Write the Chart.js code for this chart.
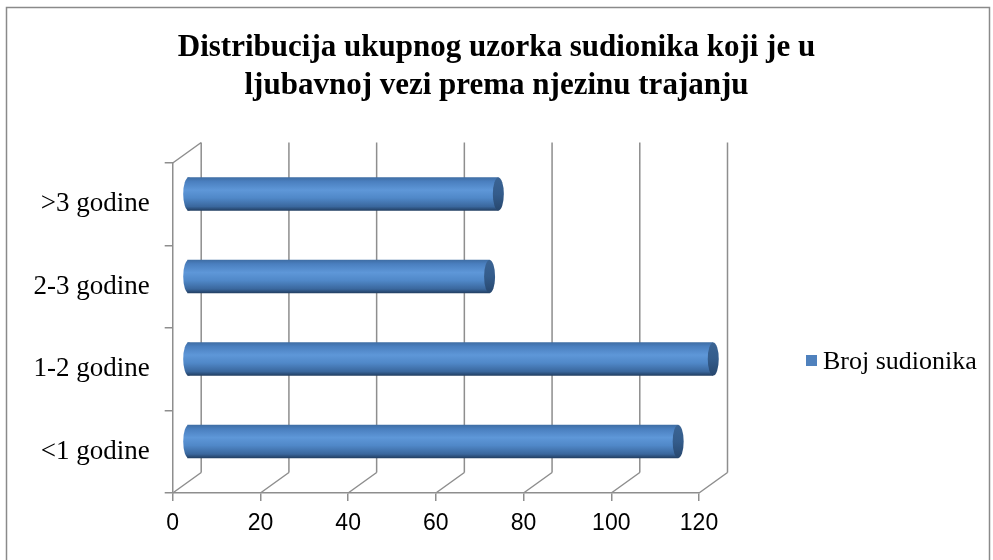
<!DOCTYPE html>
<html>
<head>
<meta charset="utf-8">
<script src="https://cdn.jsdelivr.net/npm/chart.js@4.4.1/dist/chart.umd.min.js"></script>
<style>
  html, body { margin: 0; padding: 0; background: #fff; }
  #wrap { width: 993px; height: 560px; }
</style>
</head>
<body>
<div id="wrap"><canvas id="chart" width="993" height="560"></canvas></div>
<script>
const categories = ['<1 godine', '1-2 godine', '2-3 godine', '>3 godine'];
const values = [112, 120, 69, 71];
const xTicks = [0, 20, 40, 60, 80, 100, 120];
const seriesName = 'Broj sudionika';
const titleLines = ['Distribucija ukupnog uzorka sudionika koji je u', 'ljubavnoj vezi prema njezinu trajanju'];

// 3D look: back wall offset, bars sit half way in
const DX = 28.5, DY = -20.5;
const BAR_H = 33;
const CAP_RX = 5.5;
const GRID = '#8e8e8e';

function barFill(c) {
  const chart = c.chart;
  const ys = chart.scales.y;
  if (!ys || !chart.chartArea) return '#4f81bd';
  const yc = ys.getPixelForValue(c.dataIndex);
  const g = chart.ctx.createLinearGradient(0, yc - BAR_H / 2, 0, yc + BAR_H / 2);
  g.addColorStop(0, '#3f6ea5');
  g.addColorStop(0.12, '#4a7fbf');
  g.addColorStop(0.38, '#5e97d8');
  g.addColorStop(0.62, '#5088c8');
  g.addColorStop(0.88, '#3a679d');
  g.addColorStop(1, '#223f63');
  return g;
}

const walls3d = {
  id: 'walls3d',
  beforeDraw(chart) {
    const ctx = chart.ctx;
    ctx.save();
    ctx.fillStyle = '#fff';
    ctx.fillRect(0, 0, chart.width, chart.height);
    ctx.strokeStyle = '#8a8a8a';
    ctx.lineWidth = 1.5;
    ctx.beginPath();
    ctx.moveTo(6.5, 560); ctx.lineTo(6.5, 7.5); ctx.lineTo(989.5, 7.5); ctx.lineTo(989.5, 560);
    ctx.stroke();
    ctx.restore();
  },
  beforeDatasetsDraw(chart) {
    const ctx = chart.ctx;
    const a = chart.chartArea;
    const xs = chart.scales.x;
    ctx.save();
    ctx.strokeStyle = GRID;
    ctx.lineWidth = 1.5;
    ctx.beginPath();
    xTicks.forEach(v => {
      const px = xs.getPixelForValue(v);
      // back wall line
      ctx.moveTo(px + DX, a.top + DY);
      ctx.lineTo(px + DX, a.bottom + DY);
      // floor diagonal
      ctx.moveTo(px, a.bottom);
      ctx.lineTo(px + DX, a.bottom + DY);
    });
    // side wall top edge
    ctx.moveTo(a.left, a.top);
    ctx.lineTo(a.left + DX, a.top + DY);
    ctx.stroke();
    ctx.restore();

    ctx.save();
    ctx.translate(DX / 2, DY / 2);
    // rounded left ends, drawn under the bar bodies
    const meta = chart.getDatasetMeta(0);
    meta.data.forEach(bar => {
      const p = bar.getProps(['y', 'base', 'height'], true);
      ctx.fillStyle = bar.options.backgroundColor;
      ctx.beginPath();
      ctx.ellipse(p.base + 1, p.y, CAP_RX, p.height / 2, 0, Math.PI / 2, Math.PI * 1.5);
      ctx.lineTo(p.base + 2, p.y - p.height / 2);
      ctx.lineTo(p.base + 2, p.y + p.height / 2);
      ctx.fill();
    });
  },
  afterDatasetsDraw(chart) {
    const ctx = chart.ctx;
    const meta = chart.getDatasetMeta(0);
    meta.data.forEach(bar => {
      const p = bar.getProps(['x', 'y', 'height'], true);
      const ry = p.height / 2;
      const g = ctx.createLinearGradient(0, p.y - ry, 0, p.y + ry);
      g.addColorStop(0, '#3b6494');
      g.addColorStop(0.5, '#345c8b');
      g.addColorStop(1, '#27476e');
      ctx.fillStyle = g;
      ctx.beginPath();
      ctx.ellipse(p.x, p.y, CAP_RX, ry, 0, 0, Math.PI * 2);
      ctx.fill();
    });
    ctx.restore();
  },
  afterDraw(chart) {
    // legend
    const ctx = chart.ctx;
    ctx.save();
    ctx.fillStyle = '#4f81bd';
    ctx.fillRect(806, 355, 11, 11);
    ctx.fillStyle = '#000';
    ctx.font = '26px "Liberation Serif"';
    ctx.textBaseline = 'middle';
    ctx.textAlign = 'left';
    ctx.fillText(seriesName, 823, 362);
    ctx.restore();
  }
};

new Chart(document.getElementById('chart'), {
  type: 'bar',
  data: {
    labels: categories,
    datasets: [{
      label: seriesName,
      data: values,
      backgroundColor: barFill,
      borderWidth: 0,
      barThickness: BAR_H
    }]
  },
  options: {
    indexAxis: 'y',
    responsive: false,
    animation: false,
    devicePixelRatio: 1,
    events: [],
    layout: { padding: 0 },
    plugins: {
      legend: { display: false },
      tooltip: { enabled: false },
      title: {
        display: true,
        text: titleLines,
        color: '#000',
        font: { family: '"Liberation Serif"', size: 31, weight: 'bold', lineHeight: 1.226 },
        padding: { top: 29, bottom: 58 }
      }
    },
    scales: {
      x: {
        min: 0,
        max: 120,
        afterBuildTicks(s) { s.ticks = xTicks.map(v => ({ value: v })); },
        afterFit(s) { s.height = 67; },
        grid: { display: true, drawOnChartArea: false, drawTicks: true, tickLength: 8, color: GRID, lineWidth: 1.5 },
        border: { display: true, color: GRID, width: 1.5 },
        ticks: { color: '#000', padding: 9, font: { family: '"Liberation Sans"', size: 23 } }
      },
      y: {
        reverse: true,
        afterFit(s) { s.width = 172.7; },
        grid: { display: true, drawOnChartArea: false, drawTicks: true, tickLength: 8, color: GRID, lineWidth: 1.5, offset: true },
        border: { display: true, color: GRID, width: 1.5 },
        ticks: { color: '#000', padding: 15, font: { family: '"Liberation Serif"', size: 27 } }
      },
      // empty right-hand box that keeps room for the legend
      legendSpace: {
        type: 'linear',
        axis: 'y',
        position: 'right',
        afterFit(s) { s.width = 294; },
        grid: { display: false },
        border: { display: false },
        ticks: { display: false }
      }
    }
  },
  plugins: [walls3d]
});
</script>
</body>
</html>
